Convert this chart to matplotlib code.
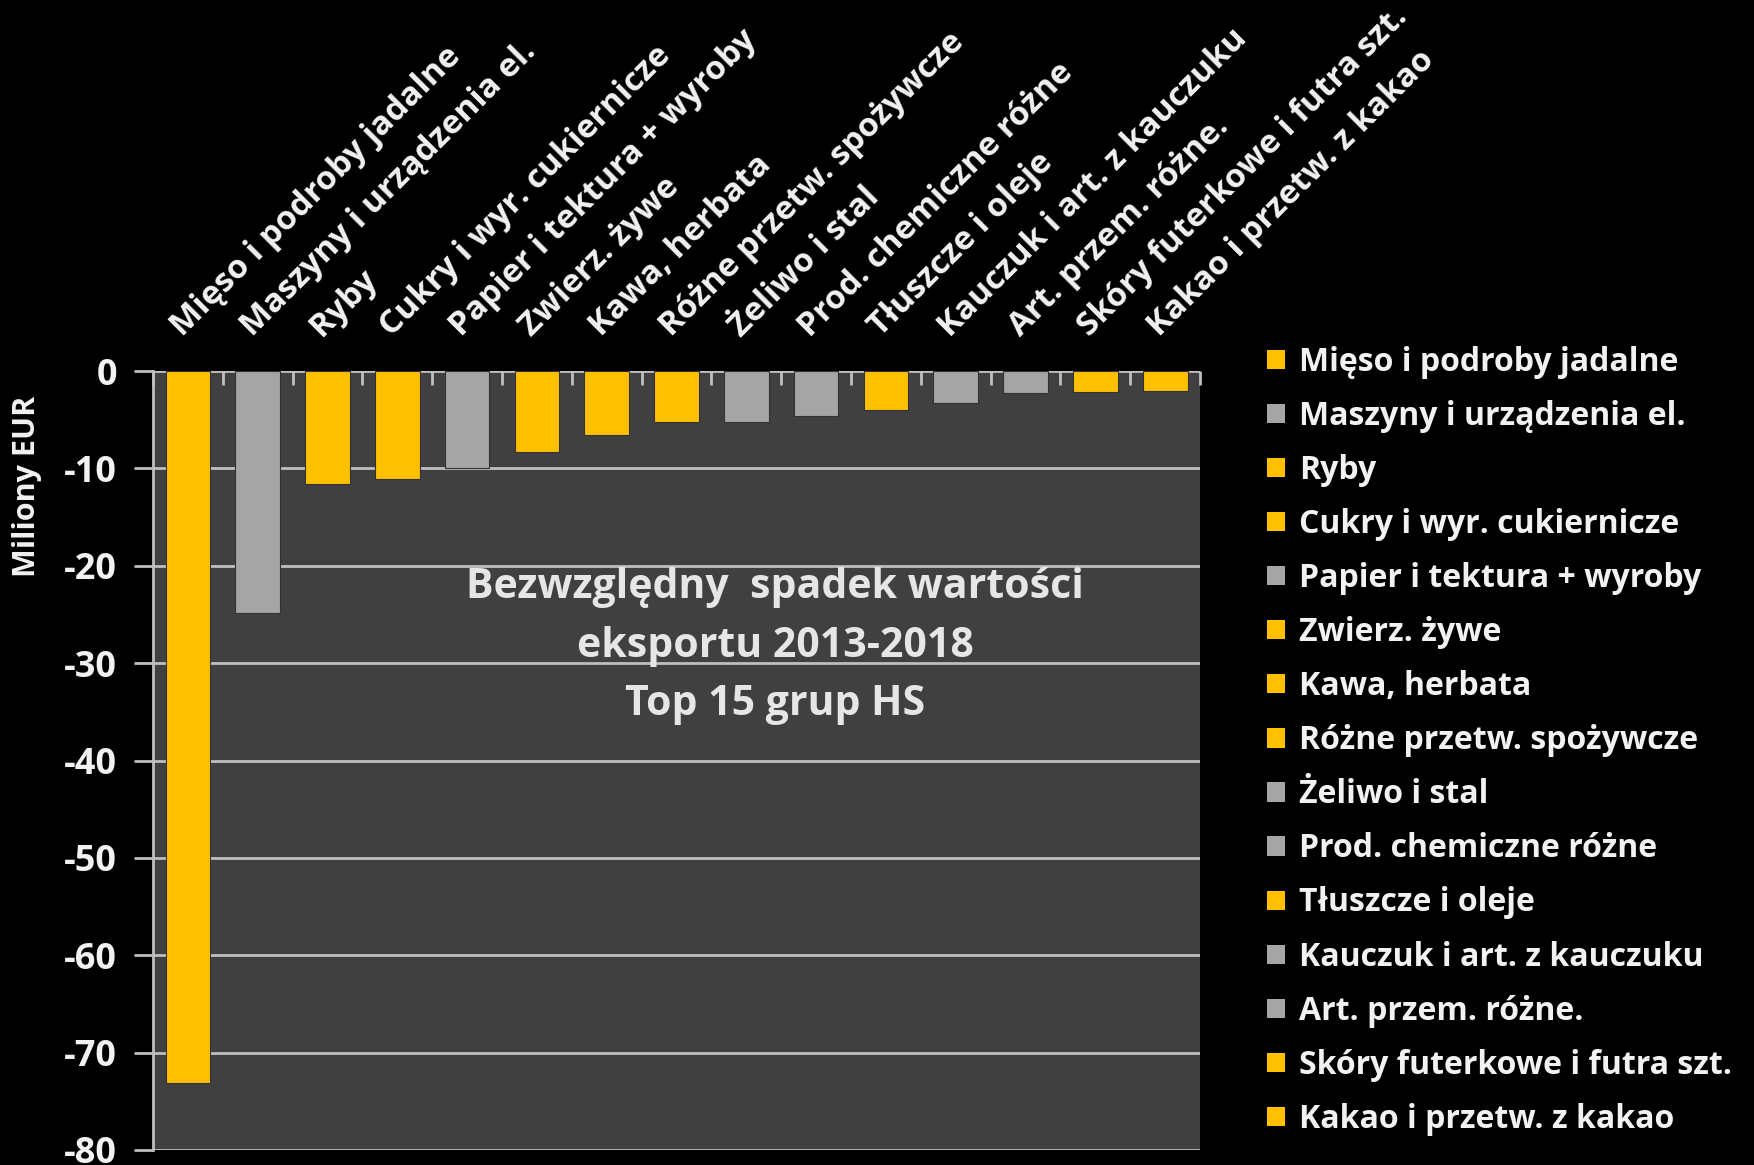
import numpy as np
import matplotlib
matplotlib.use('Agg')
from matplotlib import pyplot as plt
from matplotlib.patches import Patch

plt.rcParams['font.family'] = ['Open Sans', 'DejaVu Sans']

categories = [
    'Mięso i podroby jadalne', 'Maszyny i urządzenia el.', 'Ryby',
    'Cukry i wyr. cukiernicze', 'Papier i tektura + wyroby', 'Zwierz. żywe',
    'Kawa, herbata', 'Różne przetw. spożywcze', 'Żeliwo i stal',
    'Prod. chemiczne różne', 'Tłuszcze i oleje', 'Kauczuk i art. z kauczuku',
    'Art. przem. różne.', 'Skóry futerkowe i futra szt.', 'Kakao i przetw. z kakao',
]
values = [-73.1, -24.8, -11.6, -11.1, -10.0, -8.3, -6.6, -5.2, -5.2,
          -4.6, -4.0, -3.3, -2.3, -2.2, -2.0]
# y = yellow group, g = gray group
groups = ['y', 'g', 'y', 'y', 'g', 'y', 'y', 'y', 'g', 'g', 'y', 'g', 'g', 'y', 'y']
yticks = [0, -10, -20, -30, -40, -50, -60, -70, -80]
title = 'Bezwzględny  spadek wartości\neksportu 2013-2018\nTop 15 grup HS'

palette = {'y': '#FFC000', 'g': '#A5A5A5'}
colors = [palette[g] for g in groups]
text_col = '#F2F2F2'
grid_col = '#BFBFBF'

fig = plt.figure(figsize=(17.54, 11.65), dpi=100)
fig.patch.set_facecolor('black')
ax = fig.add_axes([0.0872, 0.0129, 0.5970, 0.6686])
ax.set_facecolor('#404040')

x = np.arange(len(categories))
ax.bar(x, values, width=0.64, color=colors, edgecolor='#333333',
       linewidth=0.8, zorder=3)

ax.set_xlim(-0.5, len(categories) - 0.5)
ax.set_ylim(-80, 0)
ax.set_yticks(yticks)
ax.set_yticklabels([str(v) for v in yticks])
ax.yaxis.grid(True, color=grid_col, linewidth=2, zorder=1)
ax.tick_params(axis='y', colors=grid_col, labelcolor=text_col, labelsize=26,
               length=14, width=2, direction='out', pad=12)

ax.set_xticks(x)
ax.set_xticklabels(categories)
ax.set_xticks(np.arange(-0.5, len(categories), 1.0), minor=True)
ax.tick_params(axis='x', which='major', top=True, bottom=False,
               labeltop=True, labelbottom=False, length=0, pad=20,
               labelsize=24, labelcolor=text_col)
ax.tick_params(axis='x', which='minor', top=True, bottom=False,
               direction='in', length=10, width=2, color=grid_col)
for lab in ax.get_xticklabels():
    lab.set_rotation(45)
    lab.set_rotation_mode('anchor')
    lab.set_ha('left')
    lab.set_va('bottom')
    lab.set_fontweight('bold')
for lab in ax.get_yticklabels():
    lab.set_fontweight('bold')

for side in ['top', 'right', 'bottom']:
    ax.spines[side].set_visible(False)
ax.spines['left'].set_color(grid_col)
ax.spines['left'].set_linewidth(2)

ax.set_ylabel('Miliony EUR', color=text_col, fontsize=22, fontweight='bold')
ax.yaxis.set_label_coords(-0.106, 0.852)

ax.text(0.594, 0.6466, title, transform=ax.transAxes, ha='center',
        va='center', fontsize=29.5, fontweight='bold', color='#E6E6E6',
        linespacing=1.56, zorder=4)

handles = [Patch(facecolor=c, edgecolor='none') for c in colors]
leg = fig.legend(handles, categories, loc='upper left',
                 bbox_to_anchor=(0.706, 0.728), frameon=False,
                 fontsize=23, labelspacing=0.66, handlelength=0.55,
                 handleheight=0.55, handletextpad=0.45)
for t in leg.get_texts():
    t.set_color(text_col)
    t.set_fontweight('bold')

fig.savefig('out.png', dpi=100, facecolor='black')
